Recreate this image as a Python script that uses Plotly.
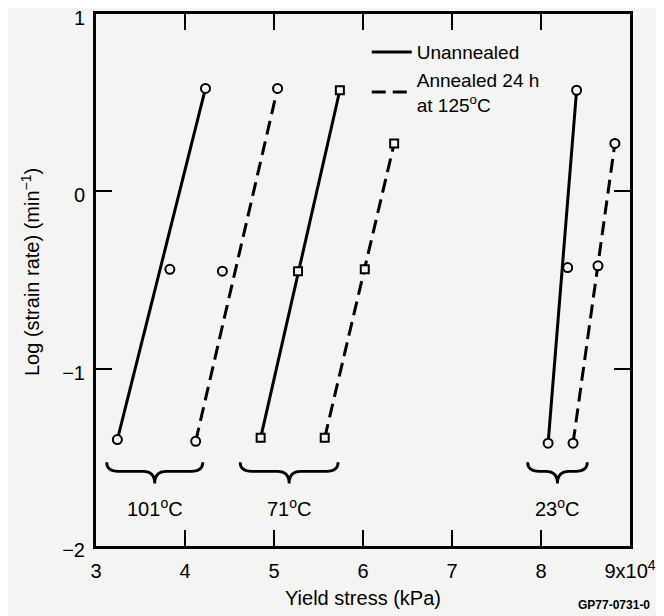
import plotly.graph_objects as go

# ---- data ----
x_ticks = [3, 4, 5, 6, 7, 8, 9]
x_tick_text = ["3", "4", "5", "6", "7", "8", "9x10<sup>4</sup>"]
y_ticks = [-2, -1, 0, 1]

# yield stress (units of 10^4 kPa) and log strain rate
x_101_un = [3.24, 3.83, 4.23]
y_101_un = [-1.40, -0.44, 0.58]
x_101_an = [4.12, 4.42, 5.04]
y_101_an = [-1.41, -0.45, 0.58]
x_71_un = [4.85, 5.27, 5.74]
y_71_un = [-1.39, -0.45, 0.57]
x_71_an = [5.57, 6.02, 6.35]
y_71_an = [-1.39, -0.44, 0.27]
x_23_un = [8.08, 8.30, 8.40]
y_23_un = [-1.42, -0.43, 0.57]
x_23_an = [8.36, 8.64, 8.83]
y_23_an = [-1.42, -0.42, 0.27]

group_labels = ["101<sup>o</sup>C", "71<sup>o</sup>C", "23<sup>o</sup>C"]
brace_left = [3.12, 4.62, 7.85]
brace_right = [4.20, 5.72, 8.52]

FONT = "Liberation Sans, Arial, sans-serif"
BG = "#f4f4f2"

series = [
    (x_101_un, y_101_un, "solid", "circle", "Unannealed", True),
    (x_101_an, y_101_an, "14px,7px", "circle", "Annealed 24 h<br>at 125<sup>o</sup>C", True),
    (x_71_un, y_71_un, "solid", "square", "Unannealed", False),
    (x_71_an, y_71_an, "14px,7px", "square", "Annealed", False),
    (x_23_un, y_23_un, "solid", "circle", "Unannealed", False),
    (x_23_an, y_23_an, "14px,7px", "circle", "Annealed", False),
]

fig = go.Figure()
# straight lines from lowest to highest point of each set
for xs, ys, dash, sym, name, show in series:
    fig.add_trace(go.Scatter(
        x=[xs[0], xs[-1]], y=[ys[0], ys[-1]], mode="lines",
        line=dict(color="black", width=3, dash=dash),
        name=name, showlegend=show, hoverinfo="skip"))
# open markers on top
for xs, ys, dash, sym, name, show in series:
    fig.add_trace(go.Scatter(
        x=xs, y=ys, mode="markers",
        marker=dict(symbol=sym, size=9 if sym == "circle" else 8, color=BG,
                    line=dict(color="black", width=2)),
        showlegend=False))

# braces and temperature labels
yt, ym, yb, ylab = -1.528, -1.579, -1.647, -1.782
for lab, x0, x1 in zip(group_labels, brace_left, brace_right):
    xc = (x0 + x1) / 2
    r = 0.13
    path = (f"M {x0},{yt} Q {x0},{ym} {x0 + r},{ym} L {xc - r},{ym} "
            f"Q {xc},{ym} {xc},{yb} Q {xc},{ym} {xc + r},{ym} "
            f"L {x1 - r},{ym} Q {x1},{ym} {x1},{yt}")
    fig.add_shape(type="path", path=path, xref="x", yref="y",
                  line=dict(color="black", width=2.8))
    fig.add_annotation(x=xc, y=ylab, xref="x", yref="y", text=lab,
                       showarrow=False, font=dict(size=20, color="black"))

axis_common = dict(showline=True, linewidth=3, linecolor="black", mirror="ticks",
                   ticks="inside", ticklen=16, tickwidth=2, tickcolor="black",
                   showgrid=False, zeroline=False, automargin=False,
                   ticklabeloverflow="allow",
                   tickfont=dict(size=20, color="black", family=FONT))

fig.update_xaxes(range=[3, 9], tickvals=x_ticks, ticktext=x_tick_text,
                 ticklabelstandoff=5, **axis_common)
fig.update_yaxes(range=[-2, 1], tickvals=y_ticks, ticklabelstandoff=4,
                 ticklabelshift=4, **axis_common)

fig.add_annotation(x=0.5, y=-0.0977, xref="paper", yref="paper",
                   text="Yield stress (kPa)", showarrow=False,
                   font=dict(size=20, color="black"), yanchor="middle")
fig.add_annotation(x=-0.1236, y=0.515, xref="paper", yref="paper",
                   text="Log (strain rate) (min<sup>\u22121</sup>)", textangle=-90,
                   showarrow=False, font=dict(size=20, color="black"),
                   xanchor="center", yanchor="middle")
fig.add_annotation(x=0.898, y=-0.111, xref="paper", yref="paper",
                   text="<b>GP77-0731-0</b>", showarrow=False, xanchor="left",
                   yanchor="middle", font=dict(size=12, color="black"))

# the page body adds an 8 px offset, so the figure is 8 px smaller
fig.update_layout(
    width=656, height=608,
    margin=dict(l=88, r=34, t=6, b=70, autoexpand=False),
    paper_bgcolor=BG, plot_bgcolor=BG,
    font=dict(family=FONT, size=20, color="black"),
    legend=dict(x=0.507, y=0.964, xanchor="left", yanchor="top",
                bgcolor="rgba(0,0,0,0)", font=dict(size=19),
                itemwidth=40, tracegroupgap=0),
)

fig.write_html("out.html")
